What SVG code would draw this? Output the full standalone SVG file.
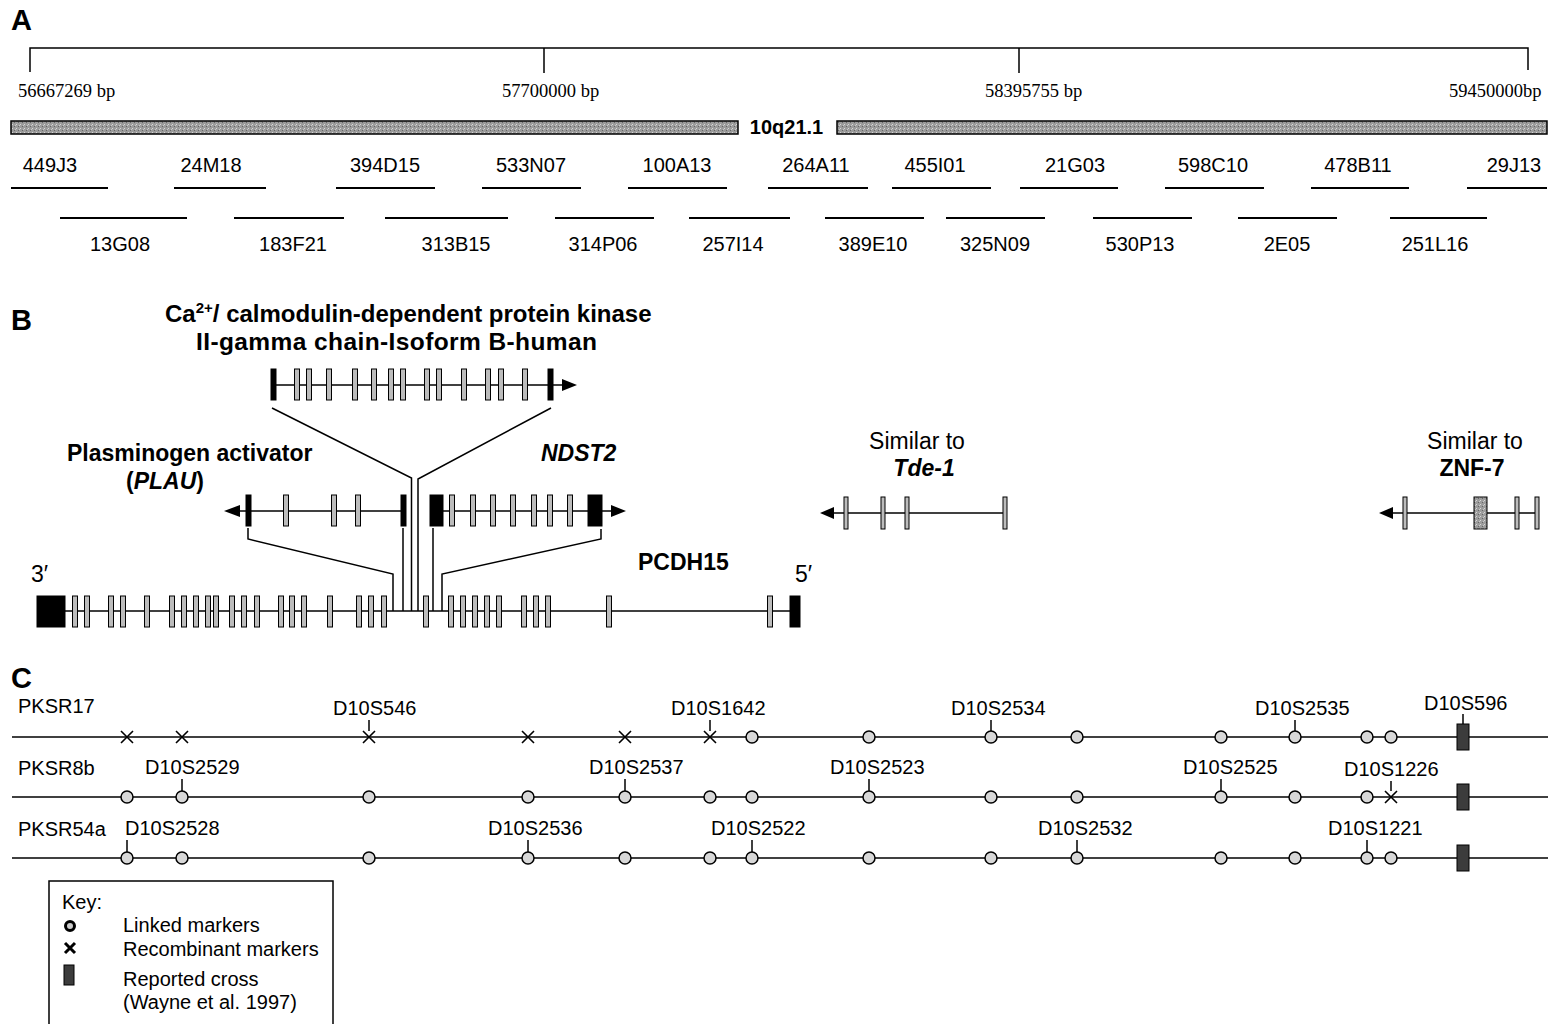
<svg xmlns="http://www.w3.org/2000/svg" width="1548" height="1024" viewBox="0 0 1548 1024">
<style>
text{font-family:"Liberation Sans",Arial,sans-serif;fill:#000}
.serif{font-family:"Liberation Serif","Times New Roman",serif;font-size:18.5px}
.panel{font-weight:bold;font-size:29px}
.bac{font-size:20px;text-anchor:middle}
.lbl{font-size:23px}
.b{font-weight:bold}
.bi{font-weight:bold;font-style:italic}
.mk{font-size:20px}
.ln{stroke:#000;stroke-width:1.5;fill:none}
.bacl{stroke:#000;stroke-width:1.8}
.ex{fill:#bcbcbc;stroke:#000;stroke-width:1}
.bk{fill:#000;stroke:#000;stroke-width:1}
.o{fill:#d8d8d8;stroke:#000;stroke-width:1.5}
.x{stroke:#000;stroke-width:1.6;fill:none}
.box{fill:#3c3c3c;stroke:#000;stroke-width:1}
.tick{stroke:#000;stroke-width:1.5}
</style>
<defs>
<pattern id="stip" width="4" height="4" patternUnits="userSpaceOnUse">
<rect width="4" height="4" fill="#9c9c9c"/>
<rect x="0" y="0" width="1" height="1" fill="#d8d8d8"/>
<rect x="2" y="2" width="1" height="1" fill="#666"/>
<rect x="3" y="1" width="1" height="1" fill="#c8c8c8"/>
</pattern>
<circle id="mo" r="6" class="o"/>
<path id="mx" d="M-6,-6 L6,6 M6,-6 L-6,6" class="x"/>
<rect id="mb" x="-6" y="-13" width="12" height="26" class="box"/>
</defs>

<!-- Panel A -->
<g id="panelA">
<text class="panel" x="11" y="30">A</text>
<g id="scale">
<path class="ln" d="M30,72 V48 H1528 V70 M544,48 V73 M1019,48 V73"/>
<text class="serif" x="18" y="97">56667269 bp</text>
<text class="serif" x="502" y="97">57700000 bp</text>
<text class="serif" x="985" y="97">58395755 bp</text>
<text class="serif" x="1449" y="97">59450000bp</text>
</g>
<g id="chromosome">
<rect x="11" y="121" width="727" height="13" fill="url(#stip)" stroke="#000" stroke-width="1.5"/>
<rect x="837" y="121" width="710" height="13" fill="url(#stip)" stroke="#000" stroke-width="1.5"/>
<text x="786.5" y="134" font-size="20" font-weight="bold" text-anchor="middle">10q21.1</text>
</g>
<g id="bacs">
<g id="bac-449J3"><line class="bacl" x1="11" y1="188" x2="108" y2="188"/><text class="bac" x="50" y="172">449J3</text></g>
<g id="bac-24M18"><line class="bacl" x1="174" y1="188" x2="266" y2="188"/><text class="bac" x="211" y="172">24M18</text></g>
<g id="bac-394D15"><line class="bacl" x1="336" y1="188" x2="435" y2="188"/><text class="bac" x="385" y="172">394D15</text></g>
<g id="bac-533N07"><line class="bacl" x1="482" y1="188" x2="581" y2="188"/><text class="bac" x="531" y="172">533N07</text></g>
<g id="bac-100A13"><line class="bacl" x1="628" y1="188" x2="727" y2="188"/><text class="bac" x="677" y="172">100A13</text></g>
<g id="bac-264A11"><line class="bacl" x1="768" y1="188" x2="868" y2="188"/><text class="bac" x="816" y="172">264A11</text></g>
<g id="bac-455I01"><line class="bacl" x1="892" y1="188" x2="991" y2="188"/><text class="bac" x="935" y="172">455I01</text></g>
<g id="bac-21G03"><line class="bacl" x1="1020" y1="188" x2="1118" y2="188"/><text class="bac" x="1075" y="172">21G03</text></g>
<g id="bac-598C10"><line class="bacl" x1="1165" y1="188" x2="1264" y2="188"/><text class="bac" x="1213" y="172">598C10</text></g>
<g id="bac-478B11"><line class="bacl" x1="1311" y1="188" x2="1409" y2="188"/><text class="bac" x="1358" y="172">478B11</text></g>
<g id="bac-29J13"><line class="bacl" x1="1467" y1="188" x2="1547" y2="188"/><text class="bac" x="1514" y="172">29J13</text></g>
<g id="bac-13G08"><line class="bacl" x1="60" y1="218" x2="187" y2="218"/><text class="bac" x="120" y="251">13G08</text></g>
<g id="bac-183F21"><line class="bacl" x1="234" y1="218" x2="344" y2="218"/><text class="bac" x="293" y="251">183F21</text></g>
<g id="bac-313B15"><line class="bacl" x1="385" y1="218" x2="508" y2="218"/><text class="bac" x="456" y="251">313B15</text></g>
<g id="bac-314P06"><line class="bacl" x1="555" y1="218" x2="654" y2="218"/><text class="bac" x="603" y="251">314P06</text></g>
<g id="bac-257I14"><line class="bacl" x1="689" y1="218" x2="790" y2="218"/><text class="bac" x="733" y="251">257I14</text></g>
<g id="bac-389E10"><line class="bacl" x1="825" y1="218" x2="924" y2="218"/><text class="bac" x="873" y="251">389E10</text></g>
<g id="bac-325N09"><line class="bacl" x1="946" y1="218" x2="1045" y2="218"/><text class="bac" x="995" y="251">325N09</text></g>
<g id="bac-530P13"><line class="bacl" x1="1093" y1="218" x2="1192" y2="218"/><text class="bac" x="1140" y="251">530P13</text></g>
<g id="bac-2E05"><line class="bacl" x1="1238" y1="218" x2="1337" y2="218"/><text class="bac" x="1287" y="251">2E05</text></g>
<g id="bac-251L16"><line class="bacl" x1="1390" y1="218" x2="1487" y2="218"/><text class="bac" x="1435" y="251">251L16</text></g>
</g>
</g>

<!-- Panel B -->
<g id="panelB">
<text class="panel" x="11" y="330">B</text>

<g id="gene-camk">
<text class="b" font-size="24" x="165" y="322">Ca<tspan font-size="15" dy="-9">2+</tspan><tspan dy="9">/ calmodulin-dependent protein kinase</tspan></text>
<text class="b" font-size="24.5" x="196" y="350" textLength="401">II-gamma chain-Isoform B-human</text>
<line class="ln" x1="272" y1="385" x2="563" y2="385"/>
<polygon points="577,385 562,379 562,391"/>
<rect class="bk" x="271" y="369" width="5" height="31"/>
<rect class="ex" x="294.5" y="369" width="5" height="31"/>
<rect class="ex" x="306.5" y="369" width="5" height="31"/>
<rect class="ex" x="326.5" y="369" width="5" height="31"/>
<rect class="ex" x="352.5" y="369" width="5" height="31"/>
<rect class="ex" x="371.5" y="369" width="5" height="31"/>
<rect class="ex" x="388.5" y="369" width="5" height="31"/>
<rect class="ex" x="400.5" y="369" width="5" height="31"/>
<rect class="ex" x="424.5" y="369" width="5" height="31"/>
<rect class="ex" x="436.5" y="369" width="5" height="31"/>
<rect class="ex" x="461.5" y="369" width="5" height="31"/>
<rect class="ex" x="485.5" y="369" width="5" height="31"/>
<rect class="ex" x="498.5" y="369" width="5" height="31"/>
<rect class="ex" x="522.5" y="369" width="5" height="31"/>
<rect class="bk" x="548" y="369" width="5" height="31"/>
</g>

<g id="gene-plau">
<text class="lbl b" x="67" y="461">Plasminogen activator</text>
<text class="lbl b" x="165" y="489" text-anchor="middle">(<tspan class="bi">PLAU</tspan>)</text>
<line class="ln" x1="238" y1="511" x2="404" y2="511"/>
<polygon points="224,511 240,505 240,517"/>
<rect class="bk" x="246" y="495" width="5" height="31"/>
<rect class="ex" x="283.5" y="495" width="5" height="31"/>
<rect class="ex" x="331.5" y="495" width="5" height="31"/>
<rect class="ex" x="355.5" y="495" width="5" height="31"/>
<rect class="bk" x="401" y="495" width="5" height="31"/>
</g>

<g id="gene-ndst2">
<text class="lbl bi" x="541" y="461">NDST2</text>
<line class="ln" x1="440" y1="511" x2="613" y2="511"/>
<polygon points="626,511 611,505 611,517"/>
<rect class="bk" x="430" y="495" width="13" height="31"/>
<rect class="ex" x="449.5" y="495" width="5" height="31"/>
<rect class="ex" x="470.5" y="495" width="5" height="31"/>
<rect class="ex" x="490.5" y="495" width="5" height="31"/>
<rect class="ex" x="510.5" y="495" width="5" height="31"/>
<rect class="ex" x="531.5" y="495" width="5" height="31"/>
<rect class="ex" x="547.5" y="495" width="5" height="31"/>
<rect class="ex" x="567.5" y="495" width="5" height="31"/>
<rect class="bk" x="588" y="495" width="14" height="31"/>
</g>

<g id="gene-tde1">
<text class="lbl" x="917" y="449" text-anchor="middle">Similar to</text>
<text class="lbl bi" x="924" y="476" text-anchor="middle">Tde-1</text>
<line class="ln" x1="832" y1="513" x2="1005" y2="513"/>
<polygon points="820,513 834,507 834,519"/>
<rect class="ex" x="844" y="497" width="4" height="32"/>
<rect class="ex" x="881" y="497" width="4" height="32"/>
<rect class="ex" x="905" y="497" width="4" height="32"/>
<rect class="ex" x="1003" y="497" width="4" height="32"/>
</g>

<g id="gene-znf7">
<text class="lbl" x="1475" y="449" text-anchor="middle">Similar to</text>
<text class="lbl b" x="1472" y="476" text-anchor="middle">ZNF-7</text>
<line class="ln" x1="1391" y1="513" x2="1537" y2="513"/>
<polygon points="1379,513 1393,507 1393,519"/>
<rect class="ex" x="1403" y="497" width="4" height="32"/>
<rect x="1474" y="497" width="13" height="32" fill="url(#stip)" stroke="#000" stroke-width="1"/>
<rect class="ex" x="1515" y="497" width="4" height="32"/>
<rect class="ex" x="1535" y="497" width="4" height="32"/>
</g>

<g id="gene-pcdh15">
<text class="lbl b" x="638" y="570">PCDH15</text>
<text class="lbl" x="31" y="582">3′</text>
<text class="lbl" x="795" y="582">5′</text>
<line class="ln" x1="60" y1="611" x2="792" y2="611"/>
<rect class="bk" x="37" y="596" width="28" height="31"/>
<g class="ex">
<rect x="72.5" y="596" width="5" height="31"/>
<rect x="84.5" y="596" width="5" height="31"/>
<rect x="108.5" y="596" width="5" height="31"/>
<rect x="120.5" y="596" width="5" height="31"/>
<rect x="144.5" y="596" width="5" height="31"/>
<rect x="169.5" y="596" width="5" height="31"/>
<rect x="181.5" y="596" width="5" height="31"/>
<rect x="193.5" y="596" width="5" height="31"/>
<rect x="205.5" y="596" width="5" height="31"/>
<rect x="213.5" y="596" width="5" height="31"/>
<rect x="229.5" y="596" width="5" height="31"/>
<rect x="241.5" y="596" width="5" height="31"/>
<rect x="254.5" y="596" width="5" height="31"/>
<rect x="278.5" y="596" width="5" height="31"/>
<rect x="289.5" y="596" width="5" height="31"/>
<rect x="301.5" y="596" width="5" height="31"/>
<rect x="327.5" y="596" width="5" height="31"/>
<rect x="356.5" y="596" width="5" height="31"/>
<rect x="368.5" y="596" width="5" height="31"/>
<rect x="381.5" y="596" width="5" height="31"/>
<rect x="423.5" y="596" width="5" height="31"/>
<rect x="448.5" y="596" width="5" height="31"/>
<rect x="460.5" y="596" width="5" height="31"/>
<rect x="472.5" y="596" width="5" height="31"/>
<rect x="484.5" y="596" width="5" height="31"/>
<rect x="496.5" y="596" width="5" height="31"/>
<rect x="521.5" y="596" width="5" height="31"/>
<rect x="533.5" y="596" width="5" height="31"/>
<rect x="545.5" y="596" width="5" height="31"/>
<rect x="606.5" y="596" width="5" height="31"/>
<rect x="767.5" y="596" width="5" height="31"/>
</g>
<rect class="bk" x="790" y="596" width="10" height="31"/>
</g>
</g>

<g id="connectors" class="ln">
<polyline points="272,408 411.5,478 411.5,611"/>
<polyline points="551,408 418,479 418,611"/>
<polyline points="248,528 248,539 393,574 393,611"/>
<polyline points="403,528 403,611"/>
<polyline points="433,528 433,611"/>
<polyline points="601,529 601,539 442,574 442,611"/>
</g>

<!-- Panel C -->
<g id="panelC">
<text class="panel" x="11" y="688">C</text>

<g id="row-PKSR17">
<text class="mk" x="18" y="713">PKSR17</text>
<line class="ln" x1="12" y1="737" x2="1548" y2="737"/>
<use href="#mx" x="127" y="737"/><use href="#mx" x="182" y="737"/><use href="#mx" x="369" y="737"/>
<use href="#mx" x="528" y="737"/><use href="#mx" x="625" y="737"/><use href="#mx" x="710" y="737"/>
<use href="#mo" x="752" y="737"/><use href="#mo" x="869" y="737"/><use href="#mo" x="991" y="737"/>
<use href="#mo" x="1077" y="737"/><use href="#mo" x="1221" y="737"/><use href="#mo" x="1295" y="737"/>
<use href="#mo" x="1367" y="737"/><use href="#mo" x="1391" y="737"/>
<use href="#mb" x="1463" y="737"/>
<text class="mk" x="333" y="715">D10S546</text><line class="tick" x1="369" y1="720" x2="369" y2="731"/>
<text class="mk" x="671" y="715">D10S1642</text><line class="tick" x1="710" y1="720" x2="710" y2="731"/>
<text class="mk" x="951" y="715">D10S2534</text><line class="tick" x1="991" y1="720" x2="991" y2="731"/>
<text class="mk" x="1255" y="715">D10S2535</text><line class="tick" x1="1295" y1="720" x2="1295" y2="731"/>
<text class="mk" x="1424" y="710">D10S596</text><line class="tick" x1="1463" y1="714" x2="1463" y2="724"/>
</g>

<g id="row-PKSR8b">
<text class="mk" x="18" y="775">PKSR8b</text>
<line class="ln" x1="12" y1="797" x2="1548" y2="797"/>
<use href="#mo" x="127" y="797"/><use href="#mo" x="182" y="797"/><use href="#mo" x="369" y="797"/>
<use href="#mo" x="528" y="797"/><use href="#mo" x="625" y="797"/><use href="#mo" x="710" y="797"/>
<use href="#mo" x="752" y="797"/><use href="#mo" x="869" y="797"/><use href="#mo" x="991" y="797"/>
<use href="#mo" x="1077" y="797"/><use href="#mo" x="1221" y="797"/><use href="#mo" x="1295" y="797"/>
<use href="#mo" x="1367" y="797"/><use href="#mx" x="1391" y="797"/>
<use href="#mb" x="1463" y="797"/>
<text class="mk" x="145" y="774">D10S2529</text><line class="tick" x1="182" y1="779" x2="182" y2="791"/>
<text class="mk" x="589" y="774">D10S2537</text><line class="tick" x1="625" y1="779" x2="625" y2="791"/>
<text class="mk" x="830" y="774">D10S2523</text><line class="tick" x1="869" y1="779" x2="869" y2="791"/>
<text class="mk" x="1183" y="774">D10S2525</text><line class="tick" x1="1221" y1="779" x2="1221" y2="791"/>
<text class="mk" x="1344" y="776">D10S1226</text><line class="tick" x1="1391" y1="781" x2="1391" y2="791"/>
</g>

<g id="row-PKSR54a">
<text class="mk" x="18" y="836">PKSR54a</text>
<line class="ln" x1="12" y1="858" x2="1548" y2="858"/>
<use href="#mo" x="127" y="858"/><use href="#mo" x="182" y="858"/><use href="#mo" x="369" y="858"/>
<use href="#mo" x="528" y="858"/><use href="#mo" x="625" y="858"/><use href="#mo" x="710" y="858"/>
<use href="#mo" x="752" y="858"/><use href="#mo" x="869" y="858"/><use href="#mo" x="991" y="858"/>
<use href="#mo" x="1077" y="858"/><use href="#mo" x="1221" y="858"/><use href="#mo" x="1295" y="858"/>
<use href="#mo" x="1367" y="858"/><use href="#mo" x="1391" y="858"/>
<use href="#mb" x="1463" y="858"/>
<text class="mk" x="125" y="835">D10S2528</text><line class="tick" x1="127" y1="840" x2="127" y2="852"/>
<text class="mk" x="488" y="835">D10S2536</text><line class="tick" x1="528" y1="840" x2="528" y2="852"/>
<text class="mk" x="711" y="835">D10S2522</text><line class="tick" x1="752" y1="840" x2="752" y2="852"/>
<text class="mk" x="1038" y="835">D10S2532</text><line class="tick" x1="1077" y1="840" x2="1077" y2="852"/>
<text class="mk" x="1328" y="835">D10S1221</text><line class="tick" x1="1367" y1="840" x2="1367" y2="852"/>
</g>

<g id="key">
<rect x="49" y="881" width="284" height="170" fill="none" stroke="#000" stroke-width="1.5"/>
<text class="mk" x="62" y="909">Key:</text>
<circle cx="70" cy="926" r="4.5" fill="#ccc" stroke="#000" stroke-width="3"/>
<text class="mk" x="123" y="932">Linked markers</text>
<path d="M65,943 L75,953 M75,943 L65,953" stroke="#000" stroke-width="3"/>
<text class="mk" x="123" y="956">Recombinant markers</text>
<rect x="64" y="965" width="10" height="20" class="box"/>
<text class="mk" x="123" y="986">Reported cross</text>
<text class="mk" x="123" y="1009">(Wayne et al. 1997)</text>
</g>
</g>
</svg>
